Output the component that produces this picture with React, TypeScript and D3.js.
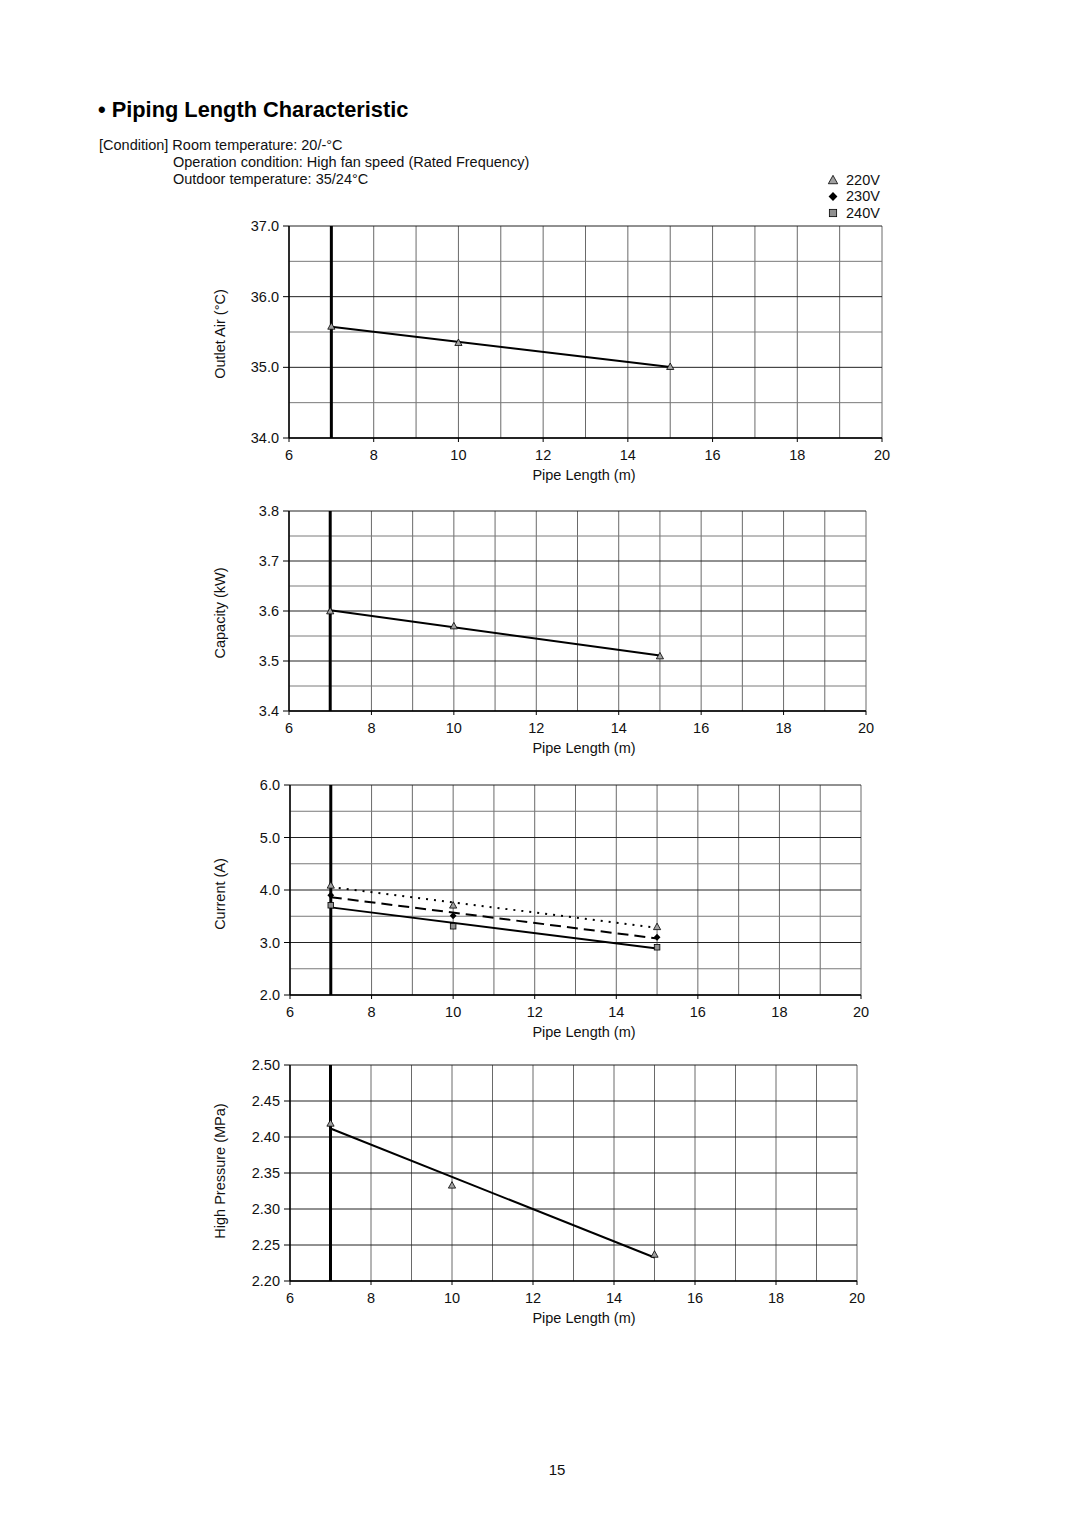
import React from "react";
import * as d3 from "d3";

const pipeLength = [7, 10, 15];
const outletAir220 = [35.58, 35.35, 35.01];
const capacity220 = [3.6, 3.57, 3.51];
const current220 = [4.09, 3.71, 3.3];
const current230 = [3.9, 3.51, 3.1];
const current240 = [3.71, 3.31, 2.91];
const highPressure220 = [2.419, 2.333, 2.237];

const xTickLabels = [6, 8, 10, 12, 14, 16, 18, 20];
const outletTicks = [34.0, 35.0, 36.0, 37.0];
const capacityTicks = [3.4, 3.5, 3.6, 3.7, 3.8];
const currentTicks = [2.0, 3.0, 4.0, 5.0, 6.0];
const pressureTicks = [2.2, 2.25, 2.3, 2.35, 2.4, 2.45, 2.5];
const legendLabels = ["220V", "230V", "240V"];

const FONT = "'Liberation Sans', Arial, Helvetica, sans-serif";
const FS = 14.5;

type Series = { values: number[]; marker: "tri" | "dia" | "sq"; dash: string };

function fit(xs: number[], ys: number[]) {
  const mx = d3.mean(xs)!;
  const my = d3.mean(ys)!;
  let sxy = 0, sxx = 0;
  xs.forEach((x, i) => {
    sxy += (x - mx) * (ys[i] - my);
    sxx += (x - mx) * (x - mx);
  });
  const b = sxy / sxx;
  return (x: number) => my + b * (x - mx);
}

function Marker({ kind, x, y, k = 1 }: { kind: string; x: number; y: number; k?: number }) {
  if (kind === "tri") {
    const s = 3.6 * k;
    return (
      <path
        d={`M${x},${y - s} L${x + s},${y + s * 0.8} L${x - s},${y + s * 0.8} Z`}
        fill="#a0a0a0"
        stroke="#000"
        strokeWidth={0.8}
      />
    );
  }
  if (kind === "dia") {
    const s = 3.4 * k;
    return <path d={`M${x},${y - s} L${x + s},${y} L${x},${y + s} L${x - s},${y} Z`} fill="#000" />;
  }
  const s = 2.8 * k;
  return <rect x={x - s} y={y - s} width={2 * s} height={2 * s} fill="#909090" stroke="#000" strokeWidth={0.8} />;
}

function Chart(props: {
  x0: number; x1: number; yTop: number; yBot: number;
  yDomain: [number, number]; minorStep: number; yTicks: number[]; fmt: string;
  yTitle: string; titleY: number; series: Series[];
}) {
  const { x0, x1, yTop, yBot, yDomain, minorStep, yTicks, fmt, yTitle, titleY, series } = props;
  const x = d3.scaleLinear().domain([6, 20]).range([x0, x1]);
  const y = d3.scaleLinear().domain(yDomain).range([yBot, yTop]);
  const nMinor = Math.round((yDomain[1] - yDomain[0]) / minorStep);
  const minor = d3.range(nMinor + 1).map((i) => yDomain[0] + i * minorStep);
  const isMajor = (v: number) => yTicks.some((t) => Math.abs(t - v) < 1e-6);
  const verts = d3.range(6, 21);
  const f = d3.format(fmt);
  return (
    <g>
      {verts.map((v) => (
        <line key={"v" + v} x1={x(v)} x2={x(v)} y1={yTop} y2={yBot} stroke="#6a6a6a" strokeWidth={1} />
      ))}
      {minor.map((v) => (
        <line key={"h" + v} x1={x0} x2={x1} y1={y(v)} y2={y(v)} stroke={isMajor(v) ? "#222" : "#7a7a7a"} strokeWidth={1} />
      ))}
      <line x1={x(7)} x2={x(7)} y1={yTop} y2={yBot} stroke="#000" strokeWidth={3} />
      <line x1={x0} x2={x0} y1={yTop} y2={yBot} stroke="#000" strokeWidth={1.5} />
      <line x1={x0} x2={x1} y1={yBot} y2={yBot} stroke="#000" strokeWidth={1.5} />
      {yTicks.map((t) => (
        <g key={"yt" + t}>
          <line x1={x0 - 6} x2={x0} y1={y(t)} y2={y(t)} stroke="#000" strokeWidth={1} />
          <text x={x0 - 10} y={y(t) + 5} textAnchor="end" fontSize={FS} fontFamily={FONT} fill="#111">
            {f(t)}
          </text>
        </g>
      ))}
      {xTickLabels.map((t) => (
        <g key={"xt" + t}>
          <line x1={x(t)} x2={x(t)} y1={yBot} y2={yBot + 4} stroke="#000" strokeWidth={1} />
          <text x={x(t)} y={yBot + 22} textAnchor="middle" fontSize={FS} fontFamily={FONT} fill="#111">
            {t}
          </text>
        </g>
      ))}
      <text x={584} y={yBot + 42} textAnchor="middle" fontSize={FS} fontFamily={FONT} fill="#111">
        Pipe Length (m)
      </text>
      <text
        transform={`translate(225,${titleY}) rotate(-90)`}
        textAnchor="middle"
        fontSize={FS}
        fontFamily={FONT}
        fill="#111"
      >
        {yTitle}
      </text>
      {series.map((s, si) => {
        const fn = fit(pipeLength, s.values);
        return (
          <g key={"s" + si}>
            <line
              x1={x(pipeLength[0])}
              y1={y(fn(pipeLength[0]))}
              x2={x(pipeLength[pipeLength.length - 1])}
              y2={y(fn(pipeLength[pipeLength.length - 1]))}
              stroke="#000"
              strokeWidth={2}
              strokeDasharray={s.dash}
            />
            {s.values.map((v, i) => (
              <Marker key={i} kind={s.marker} x={x(pipeLength[i])} y={y(v)} />
            ))}
          </g>
        );
      })}
    </g>
  );
}

export default function App() {
  return (
    <svg
      width={1080}
      height={1528}
      style={{ position: "absolute", left: 0, top: 0, background: "#fff" }}
    >
      <rect width={1080} height={1528} fill="#fff" />
      <text x={98} y={117} fontSize={21.8} fontWeight="bold" fontFamily={FONT} fill="#000">
        • Piping Length Characteristic
      </text>
      <text x={99} y={150} fontSize={FS} fontFamily={FONT} fill="#111">
        [Condition] Room temperature: 20/-°C
      </text>
      <text x={173} y={166.5} fontSize={FS} fontFamily={FONT} fill="#111">
        Operation condition: High fan speed (Rated Frequency)
      </text>
      <text x={173} y={184} fontSize={FS} fontFamily={FONT} fill="#111">
        Outdoor temperature: 35/24°C
      </text>
      {legendLabels.map((l, i) => (
        <g key={l}>
          <Marker kind={["tri", "dia", "sq"][i]} x={833} y={180 + i * 16.5} k={1.3} />
          <text x={846} y={184.5 + i * 16.5} fontSize={FS} fontFamily={FONT} fill="#111">
            {l}
          </text>
        </g>
      ))}
      <Chart
        x0={289} x1={882} yTop={226} yBot={438}
        yDomain={[34, 37]} minorStep={0.5} yTicks={outletTicks} fmt=".1f"
        yTitle="Outlet Air (°C)" titleY={334}
        series={[{ values: outletAir220, marker: "tri", dash: "" }]}
      />
      <Chart
        x0={289} x1={866} yTop={511} yBot={711}
        yDomain={[3.4, 3.8]} minorStep={0.05} yTicks={capacityTicks} fmt=".1f"
        yTitle="Capacity (kW)" titleY={613}
        series={[{ values: capacity220, marker: "tri", dash: "" }]}
      />
      <Chart
        x0={290} x1={861} yTop={785} yBot={995}
        yDomain={[2, 6]} minorStep={0.5} yTicks={currentTicks} fmt=".1f"
        yTitle="Current (A)" titleY={894}
        series={[
          { values: current220, marker: "tri", dash: "2,6" },
          { values: current230, marker: "dia", dash: "11,6" },
          { values: current240, marker: "sq", dash: "" },
        ]}
      />
      <Chart
        x0={290} x1={857} yTop={1065} yBot={1281}
        yDomain={[2.2, 2.5]} minorStep={0.05} yTicks={pressureTicks} fmt=".2f"
        yTitle="High Pressure (MPa)" titleY={1171}
        series={[{ values: highPressure220, marker: "tri", dash: "" }]}
      />
      <text x={557} y={1475} textAnchor="middle" fontSize={15} fontFamily={FONT} fill="#111">
        15
      </text>
    </svg>
  );
}
